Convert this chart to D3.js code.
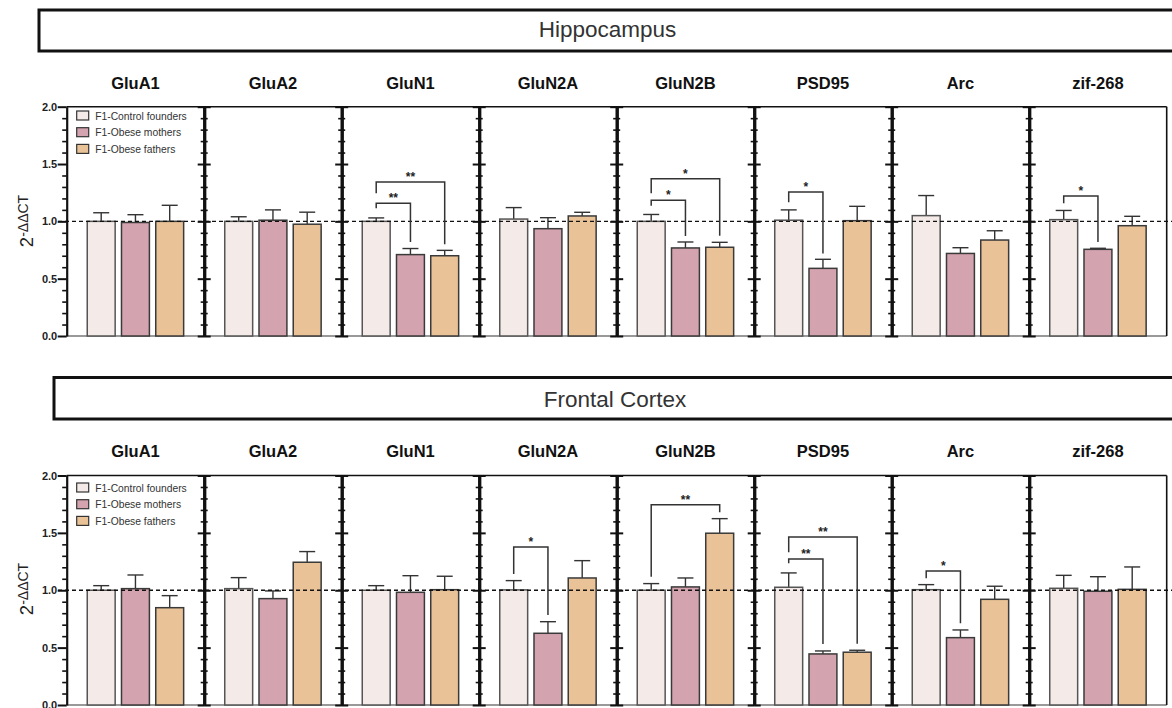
<!DOCTYPE html>
<html>
<head>
<meta charset="utf-8">
<script src="https://cdn.jsdelivr.net/npm/d3@7"></script>
<style>
  html, body { margin: 0; padding: 0; background: #fff; }
  svg { display: block; font-family: "Liberation Sans", Arial, sans-serif; }
</style>
</head>
<body>
<svg id="chart" width="1172" height="708"></svg>
<script>
// ---------- data ----------
const genes = ["GluA1", "GluA2", "GluN1", "GluN2A", "GluN2B", "PSD95", "Arc", "zif-268"];
const groups = ["F1-Control founders", "F1-Obese mothers", "F1-Obese fathers"];
const regions = ["Hippocampus", "Frontal Cortex"];
const yTicksMajor = [0, 0.5, 1.0, 1.5, 2.0];
const yTicksMinor = [0.1, 0.2, 0.3, 0.4, 0.6, 0.7, 0.8, 0.9, 1.1, 1.2, 1.3, 1.4, 1.6, 1.7, 1.8, 1.9];

// Hippocampus means and SEM
const hipControl     = [1.00, 1.00, 1.00, 1.02, 1.00, 1.01, 1.05, 1.015];
const hipControlSem  = [0.075, 0.04, 0.03, 0.10, 0.06, 0.09, 0.175, 0.08];
const hipMothers     = [0.99, 1.01, 0.71, 0.936, 0.768, 0.59, 0.72, 0.756];
const hipMothersSem  = [0.068, 0.09, 0.053, 0.096, 0.052, 0.079, 0.05, 0.009];
const hipFathers     = [1.00, 0.975, 0.70, 1.047, 0.774, 1.006, 0.837, 0.962];
const hipFathersSem  = [0.14, 0.105, 0.047, 0.032, 0.043, 0.125, 0.081, 0.082];

// Frontal cortex means and SEM
const ctxControl     = [1.00, 1.014, 1.00, 1.003, 1.00, 1.026, 1.005, 1.017];
const ctxControlSem  = [0.04, 0.096, 0.04, 0.081, 0.058, 0.125, 0.044, 0.113];
const ctxMothers     = [1.014, 0.927, 0.982, 0.625, 1.029, 0.445, 0.587, 0.991];
const ctxMothersSem  = [0.119, 0.067, 0.145, 0.101, 0.078, 0.026, 0.067, 0.127];
const ctxFathers     = [0.848, 1.244, 1.005, 1.107, 1.497, 0.46, 0.921, 1.008];
const ctxFathersSem  = [0.105, 0.093, 0.117, 0.151, 0.127, 0.017, 0.114, 0.195];

// significance brackets: gene index, compared group, label, bracket level, left leg end, right leg end (data units)
const hipSig = [
  { gene: 2, to: 1, label: "**", top: 1.157, leftEnd: 1.114, rightEnd: 0.82 },
  { gene: 2, to: 2, label: "**", top: 1.343, leftEnd: 1.245, rightEnd: 0.80 },
  { gene: 4, to: 1, label: "*",  top: 1.183, leftEnd: 1.136, rightEnd: 0.872 },
  { gene: 4, to: 2, label: "*",  top: 1.372, leftEnd: 1.245, rightEnd: 0.875 },
  { gene: 5, to: 1, label: "*",  top: 1.256, leftEnd: 1.166, rightEnd: 0.72 },
  { gene: 7, to: 1, label: "*",  top: 1.221, leftEnd: 1.157, rightEnd: 0.82 }
];
const ctxSig = [
  { gene: 3, to: 1, label: "*",  top: 1.377, leftEnd: 1.142, rightEnd: 0.784 },
  { gene: 4, to: 2, label: "**", top: 1.746, leftEnd: 1.118, rightEnd: 1.679 },
  { gene: 5, to: 1, label: "**", top: 1.273, leftEnd: 1.235, rightEnd: 0.532 },
  { gene: 5, to: 2, label: "**", top: 1.465, leftEnd: 1.331, rightEnd: 0.534 },
  { gene: 6, to: 1, label: "*",  top: 1.168, leftEnd: 1.104, rightEnd: 0.712 }
];

const colors = ["#f4ebe8", "#d4a3b0", "#e9c397"];
const outlines = ["#555", "#3a3a3a", "#3a3a3a"];

// ---------- layout ----------
const svg = d3.select("#chart");
const x0 = 66.7, panelW = 137.5;
const xPanel = d3.scaleBand().domain(genes).range([x0, x0 + panelW * genes.length]).padding(0);
const xGroup = d3.scaleBand().domain(groups).range([0, panelW]).paddingInner(0.185).paddingOuter(0.6);

const sections = [
  { name: regions[0], box: { x: 39, y: 10, h: 41 }, headX: 607.5, headY: 37.3, titleY: 89, yRange: [336, 106.7], labelY: 221,
    means: [hipControl, hipMothers, hipFathers], sems: [hipControlSem, hipMothersSem, hipFathersSem], sig: hipSig, legendY: 111 },
  { name: regions[1], box: { x: 54, y: 377.5, h: 41.5 }, headX: 615, headY: 406.5, titleY: 456.5, yRange: [705, 475.5], labelY: 589,
    means: [ctxControl, ctxMothers, ctxFathers], sems: [ctxControlSem, ctxMothersSem, ctxFathersSem], sig: ctxSig, legendY: 483 }
];

sections.forEach(sec => {
  const y = d3.scaleLinear().domain([0, 2]).range(sec.yRange);
  const g = svg.append("g");

  // header box
  g.append("rect").attr("x", sec.box.x).attr("y", sec.box.y)
    .attr("width", 1200).attr("height", sec.box.h)
    .attr("fill", "none").attr("stroke", "#111").attr("stroke-width", 3);
  g.append("text").attr("x", sec.headX).attr("y", sec.headY)
    .attr("text-anchor", "middle").attr("font-size", 22.5).attr("fill", "#333")
    .text(sec.name);

  // gene titles
  genes.forEach(gn => {
    g.append("text").attr("x", xPanel(gn) + panelW / 2).attr("y", sec.titleY)
      .attr("text-anchor", "middle").attr("font-size", 16.5).attr("font-weight", "bold")
      .attr("fill", "#111").text(gn);
  });

  // frame: top line, bottom line, right border
  const xEnd = x0 + panelW * genes.length;
  g.append("line").attr("x1", x0).attr("x2", xEnd).attr("y1", y(2)).attr("y2", y(2))
    .attr("stroke", "#111").attr("stroke-width", 1.6);
  g.append("line").attr("x1", x0).attr("x2", xEnd).attr("y1", y(0)).attr("y2", y(0))
    .attr("stroke", "#777").attr("stroke-width", 1.6);
  g.append("line").attr("x1", xEnd).attr("x2", xEnd).attr("y1", y(2)).attr("y2", y(0))
    .attr("stroke", "#111").attr("stroke-width", 1.6);

  // bars
  genes.forEach((gn, gi) => {
    const px = xPanel(gn);
    groups.forEach((grp, k) => {
      const v = sec.means[k][gi], s = sec.sems[k][gi];
      const bx = px + xGroup(grp), bw = xGroup.bandwidth();
      const cx = bx + bw / 2;
      // error bar
      g.append("line").attr("x1", cx).attr("x2", cx).attr("y1", y(v)).attr("y2", y(v + s))
        .attr("stroke", "#333").attr("stroke-width", 1.4);
      g.append("line").attr("x1", cx - 8).attr("x2", cx + 8).attr("y1", y(v + s)).attr("y2", y(v + s))
        .attr("stroke", "#333").attr("stroke-width", 1.4);
      g.append("rect").attr("x", bx).attr("y", y(v)).attr("width", bw).attr("height", y(0) - y(v))
        .attr("fill", colors[k]).attr("stroke", outlines[k]).attr("stroke-width", 1.5);
    });
  });

  // axes
  genes.forEach((gn, gi) => {
    const px = xPanel(gn);
    if (gi === 0) {
      const ax = g.append("g").attr("transform", `translate(${px},0)`)
        .call(d3.axisLeft(y).tickValues(yTicksMajor).tickSize(9).tickSizeOuter(0).tickFormat(d3.format(".1f")));
      ax.select(".domain").attr("stroke", "#111").attr("stroke-width", 2.2);
      ax.selectAll(".tick line").attr("stroke", "#111").attr("stroke-width", 2);
      ax.selectAll(".tick text").attr("font-size", 11).attr("font-weight", "bold").attr("fill", "#222")
        .attr("font-family", "Liberation Sans, Arial, sans-serif").attr("x", -9.5);
      const mi = g.append("g").attr("transform", `translate(${px},0)`)
        .call(d3.axisLeft(y).tickValues(yTicksMinor).tickSize(4.5).tickSizeOuter(0).tickFormat(""));
      mi.select(".domain").remove();
      mi.selectAll(".tick line").attr("stroke", "#111").attr("stroke-width", 1.6);
    } else {
      [d3.axisLeft, d3.axisRight].forEach(fn => {
        const ax = g.append("g").attr("transform", `translate(${px},0)`)
          .call(fn(y).tickValues(yTicksMajor).tickSize(6.5).tickSizeOuter(0).tickFormat(""));
        ax.select(".domain").attr("stroke", "#111").attr("stroke-width", 3);
        ax.selectAll(".tick line").attr("stroke", "#111").attr("stroke-width", 2);
        const mi = g.append("g").attr("transform", `translate(${px},0)`)
          .call(fn(y).tickValues(yTicksMinor).tickSize(3.5).tickSizeOuter(0).tickFormat(""));
        mi.select(".domain").remove();
        mi.selectAll(".tick line").attr("stroke", "#111").attr("stroke-width", 1.6);
      });
    }
  });

  // reference dashed line at 1.0
  g.append("line").attr("x1", 58).attr("x2", 1172).attr("y1", y(1)).attr("y2", y(1))
    .attr("stroke", "#111").attr("stroke-width", 1.3).attr("stroke-dasharray", "4,3");

  // significance brackets
  sec.sig.forEach(b => {
    const px = xPanel(genes[b.gene]);
    const xa = px + xGroup(groups[0]) + xGroup.bandwidth() / 2;
    const xb = px + xGroup(groups[b.to]) + xGroup.bandwidth() / 2;
    g.append("path")
      .attr("d", `M${xa},${y(b.leftEnd)}V${y(b.top)}H${xb}V${y(b.rightEnd)}`)
      .attr("fill", "none").attr("stroke", "#333").attr("stroke-width", 1.5);
    g.append("text").attr("x", (xa + xb) / 2).attr("y", y(b.top) - 1)
      .attr("text-anchor", "middle").attr("font-size", 12).attr("font-weight", "bold")
      .attr("fill", "#222").text(b.label);
  });

  // legend
  const lg = g.append("g").attr("transform", `translate(76.7,${sec.legendY})`);
  groups.forEach((grp, k) => {
    lg.append("rect").attr("x", 0).attr("y", k * 16.7).attr("width", 12).attr("height", 9)
      .attr("fill", colors[k]).attr("stroke", "#333").attr("stroke-width", 1.2);
    lg.append("text").attr("x", 18.5).attr("y", k * 16.7 + 8.5)
      .attr("font-size", 10.3).attr("fill", "#333").text(grp);
  });

  // y label: 2^-ΔΔCT
  const yl = g.append("text").attr("transform", `translate(33,${sec.labelY}) rotate(-90)`)
    .attr("text-anchor", "middle").attr("fill", "#222").attr("font-size", 18.5);
  yl.append("tspan").text("2");
  yl.append("tspan").attr("font-size", 14).attr("dy", -5).text("-ΔΔCT");
});
</script>
</body>
</html>
